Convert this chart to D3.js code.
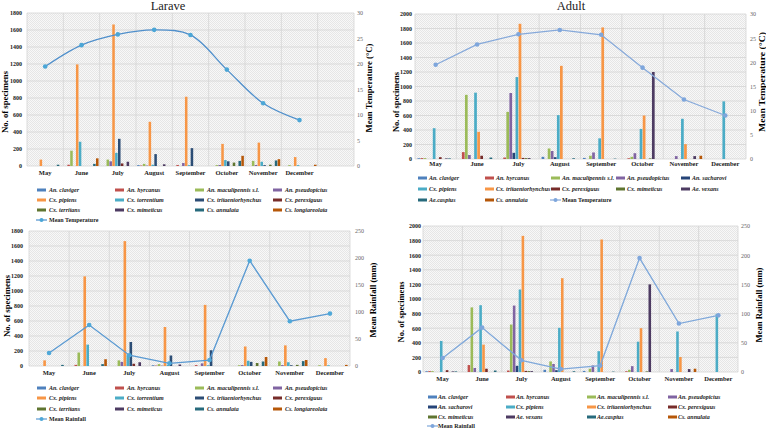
<!DOCTYPE html>
<html><head><meta charset="utf-8">
<script src="https://cdn.jsdelivr.net/npm/d3@7"></script>
<style>
body{margin:0;background:#fff}
text{font-family:"Liberation Serif","Times New Roman",serif}
</style>
</head><body>
<svg id="c" width="766" height="430"></svg>
<script>
// ---------- DATA ----------
const months = ["May","June","July","August","September","October","November","December"];
const monthsTL = ["May","June","July","August","September","October","November","December",""];

// Larvae (12 species)
const larvaeSpecies = ["An. claviger","An. hyrcanus","An. maculipennis s.l.","An. pseudopictus","Cx. pipiens","Cx. torrentium","Cx. tritaeniorhynchus","Cx. perexiguus","Cx. territans","Cx. mimeticus","Cs. annulata","Cs. longiareolata"];
const larvaeClaviger        = [0, 0, 0, 10, 0, 0, 0, 0];
const larvaeHyrcanus        = [0, 15, 0, 5, 12, 0, 0, 0];
const larvaeMaculipennis    = [0, 180, 75, 25, 0, 10, 60, 10];
const larvaePseudopictus    = [0, 0, 55, 5, 35, 12, 12, 0];
const larvaePipiens         = [75, 1195, 1665, 520, 815, 260, 275, 105];
const larvaeTorrentium      = [0, 285, 155, 15, 10, 70, 50, 10];
const larvaeTritaeniorhynchus = [0, 0, 320, 140, 210, 55, 10, 0];
const larvaePerexiguus      = [0, 0, 30, 0, 0, 0, 0, 0];
const larvaeTerritans       = [0, 0, 0, 0, 0, 40, 15, 0];
const larvaeMimeticus       = [0, 0, 50, 20, 0, 0, 0, 0];
const larvaeAnnulata        = [15, 25, 0, 0, 0, 60, 65, 0];
const larvaeLongiareolata   = [0, 90, 0, 0, 0, 120, 80, 15];

// Adults (12 species)
const adultSpecies = ["An. claviger","An. hyrcanus","An. maculipennis s.l.","An. pseudopictus","An. sacharovi","Cx. pipiens","Cx. tritaeniorhynchus","Cx. perexiguus","Cx. mimeticus","Ae. vexans","Ae.caspius","Cs. annulata"];
const adultClaviger         = [10, 0, 0, 30, 15, 0, 0, 0];
const adultHyrcanus         = [12, 95, 20, 0, 0, 10, 0, 0];
const adultMaculipennis     = [12, 885, 650, 145, 45, 30, 0, 0];
const adultPseudopictus     = [0, 55, 910, 110, 90, 80, 40, 0];
const adultSacharovi        = [0, 0, 85, 25, 0, 0, 0, 0];
const adultPipiens          = [425, 915, 1130, 605, 285, 415, 555, 795];
const adultTritaeniorhynchus= [0, 375, 1865, 1285, 1815, 600, 205, 0];
const adultPerexiguus       = [25, 45, 15, 0, 0, 0, 0, 0];
const adultMimeticus        = [0, 0, 12, 0, 0, 8, 0, 0];
const adultVexans           = [8, 0, 12, 0, 0, 1200, 40, 0];
const adultCaspius          = [8, 20, 0, 10, 5, 0, 0, 0];
const adultAnnulata         = [0, 0, 0, 0, 0, 0, 45, 0];

// Climate
const meanTemperature = [19.5, 23.7, 25.8, 26.7, 25.7, 18.9, 12.3, 9.0];
const meanRainfall    = [24, 76, 20, 5, 11, 195, 83, 97];

const leftTicksLarvae = [0,200,400,600,800,1000,1200,1400,1600,1800];
const leftTicksAdult  = [0,200,400,600,800,1000,1200,1400,1600,1800,2000];
const tempTicks = [0,5,10,15,20,25,30];
const rainTicks = [0,50,100,150,200,250];

// ---------- STYLE ----------
const larvaeColors = ["#4F81BD","#C0504D","#9BBB59","#8064A2","#F79646","#4BACC6","#2C4D75","#772C2A","#5F7530","#4D3B62","#276A7C","#B65708"];
const adultColors  = ["#4F81BD","#C0504D","#9BBB59","#8064A2","#264478","#4BACC6","#F79646","#772C2A","#5F7530","#4D3B62","#276A7C","#B65708"];

const larvaeValues = [larvaeClaviger,larvaeHyrcanus,larvaeMaculipennis,larvaePseudopictus,larvaePipiens,larvaeTorrentium,larvaeTritaeniorhynchus,larvaePerexiguus,larvaeTerritans,larvaeMimeticus,larvaeAnnulata,larvaeLongiareolata];
const adultValues = [adultClaviger,adultHyrcanus,adultMaculipennis,adultPseudopictus,adultSacharovi,adultPipiens,adultTritaeniorhynchus,adultPerexiguus,adultMimeticus,adultVexans,adultCaspius,adultAnnulata];

const svg = d3.select("#c");
const defs = svg.append("defs");
const pat = defs.append("pattern").attr("id","pat").attr("width",2).attr("height",2).attr("patternUnits","userSpaceOnUse");
pat.append("rect").attr("width",2).attr("height",2).attr("fill","#f8f8f8");
pat.append("rect").attr("width",1).attr("height",1).attr("fill","#e6e6e6");
pat.append("rect").attr("x",1).attr("y",1).attr("width",1).attr("height",1).attr("fill","#e6e6e6");

function panel(o){
  const g = svg.append("g");
  const x = d3.scaleBand().domain(o.cats).range([o.L,o.R]);
  const y = d3.scaleLinear().domain([0,d3.max(o.leftTicks)]).range([o.B,o.T]);
  const yr = d3.scaleLinear().domain([0,d3.max(o.rightTicks)]).range([o.B,o.T]);
  const xs = d3.scaleBand().domain(d3.range(o.species.length)).range([0,x.bandwidth()])
      .paddingInner(0.12).paddingOuter(o.pad);

  g.append("rect").attr("x",o.L).attr("y",o.T).attr("width",o.R-o.L).attr("height",o.B-o.T).attr("fill","url(#pat)");
  g.selectAll(".hg").data(o.leftTicks).join("line")
    .attr("x1",o.L).attr("x2",o.R).attr("y1",d=>y(d)).attr("y2",d=>y(d))
    .attr("stroke","#d4d4d4").attr("stroke-width",0.8);
  g.selectAll(".vg").data(o.cats.slice(1)).join("line")
    .attr("x1",d=>x(d)).attr("x2",d=>x(d)).attr("y1",o.T).attr("y2",o.B)
    .attr("stroke","#d4d4d4").attr("stroke-width",0.8);
  g.append("line").attr("x1",o.R).attr("x2",o.R).attr("y1",o.T).attr("y2",o.B).attr("stroke","#d4d4d4").attr("stroke-width",0.8);
  g.append("line").attr("x1",o.L).attr("x2",o.L).attr("y1",o.T).attr("y2",o.B).attr("stroke","#d4d4d4").attr("stroke-width",0.8);

  // bars
  o.values.forEach((vals,si)=>{
    g.selectAll(null).data(vals.map((v,i)=>({v,i}))).join("rect")
      .attr("x",d=>x(o.cats[d.i])+xs(si))
      .attr("width",xs.bandwidth())
      .attr("y",d=>y(d.v)).attr("height",d=>y(0)-y(d.v))
      .attr("fill",o.colors[si]);
  });

  // left axis
  const la = g.append("g").attr("transform",`translate(${o.leftTickX},0)`)
    .call(d3.axisLeft(y).tickValues(o.leftTicks).tickFormat(d3.format("d")).tickSize(0).tickPadding(0));
  la.attr("font-family",null);
  la.select(".domain").remove();
  la.selectAll("text").attr("font-size",6).attr("font-weight","bold").attr("fill","#222");
  // right axis
  const ra = g.append("g").attr("transform",`translate(${o.rightTickX},0)`)
    .call(d3.axisRight(yr).tickValues(o.rightTicks).tickFormat(d3.format("d")).tickSize(0).tickPadding(0));
  ra.attr("font-family",null);
  ra.select(".domain").remove();
  ra.selectAll("text").attr("font-size",6).attr("fill","#666");
  // x axis labels
  g.selectAll(".xl").data(o.cats.filter(c=>c!=="")).join("text")
    .attr("x",d=>x(d)+x.bandwidth()/2).attr("y",o.xLabelY)
    .attr("text-anchor","middle").attr("font-size",6.5).attr("font-weight","bold").attr("fill","#222")
    .text(d=>d);

  // line
  const line = d3.line().x((d,i)=>x(o.cats[i])+x.bandwidth()/2).y(d=>yr(d)).curve(o.curve);
  g.append("path").attr("d",line(o.line)).attr("fill","none").attr("stroke",o.lineColor).attr("stroke-width",1.3);
  g.selectAll(null).data(o.line).join("circle")
    .attr("cx",(d,i)=>x(o.cats[i])+x.bandwidth()/2).attr("cy",d=>yr(d)).attr("r",2.3)
    .attr("fill",o.markerColor);

  // titles
  if(o.title) g.append("text").attr("x",o.titleX).attr("y",10).attr("text-anchor","middle")
    .attr("font-size",12.5).attr("fill","#222").text(o.title);
  g.append("text").attr("transform",`translate(${o.lt[0]},${o.lt[1]}) rotate(-90)`)
    .attr("text-anchor","middle").attr("dy","0.35em").attr("font-size",9).attr("font-weight","bold")
    .attr("textLength",o.lt[2]).attr("lengthAdjust","spacingAndGlyphs").text("No. of specimens");
  g.append("text").attr("transform",`translate(${o.rt[0]},${o.rt[1]}) rotate(-90)`)
    .attr("text-anchor","middle").attr("dy","0.35em").attr("font-size",9).attr("font-weight","bold")
    .attr("textLength",o.rt[2]).attr("lengthAdjust","spacingAndGlyphs").text(o.rightTitle);

  // legend
  const items = o.species.map((s,i)=>({name:s,color:o.colors[i],type:"bar"}));
  items.push({name:o.lineName,color:o.lineColor,type:"line"});
  items.forEach((it,i)=>{
    const cx = o.legCols[i%o.legCols.length], cy = o.legRows[Math.floor(i/o.legCols.length)];
    if(it.type==="bar"){
      g.append("rect").attr("x",cx).attr("y",cy-1.5).attr("width",9).attr("height",3).attr("fill",it.color);
    } else {
      g.append("line").attr("x1",cx-1).attr("x2",cx+10).attr("y1",cy).attr("y2",cy).attr("stroke",it.color).attr("stroke-width",1.2);
      g.append("circle").attr("cx",cx+4.5).attr("cy",cy).attr("r",2).attr("fill",o.markerColor);
    }
    g.append("text").attr("x",cx+o.legTextOff).attr("y",cy+2).attr("font-size",6).attr("font-weight","bold")
      .attr("font-style",it.type==="bar"?"italic":"normal").attr("fill","#222").text(it.name);
  });
}

// Top-left: Larvae vs temperature
panel({cats:monthsTL,L:27,R:354,T:13,B:166,pad:0.4,species:larvaeSpecies,values:larvaeValues,colors:larvaeColors,
  leftTicks:leftTicksLarvae,rightTicks:tempTicks,leftTickX:22,rightTickX:357,xLabelY:175,
  line:meanTemperature,curve:d3.curveCatmullRom,lineColor:"#4F8FCB",markerColor:"#4BA6D6",lineName:"Mean Temperature",
  title:"Larave",titleX:168,lt:[5,102,62],rt:[369,88,89],rightTitle:"Mean Temperature (°C)",
  legCols:[37,115,195,273],legRows:[190,200,210,220],legTextOff:12});

// Top-right: Adults vs temperature
panel({cats:months,L:415,R:746,T:14,B:159,pad:0.8,species:adultSpecies,values:adultValues,colors:adultColors,
  leftTicks:leftTicksAdult,rightTicks:tempTicks,leftTickX:412,rightTickX:750,xLabelY:166,
  line:meanTemperature,curve:d3.curveLinear,lineColor:"#86A9DA",markerColor:"#7EA6DC",lineName:"Mean Temperature",
  title:"Adult",titleX:571,lt:[396,102,60],rt:[762,82,100],rightTitle:"Mean Temperature (°C)",
  legCols:[418,485,551,616,681],legRows:[178,189,200],legTextOff:11});

// Bottom-left: Larvae vs rainfall
panel({cats:months,L:29,R:350,T:231,B:366,pad:0.8,species:larvaeSpecies,values:larvaeValues,colors:larvaeColors,
  leftTicks:leftTicksLarvae,rightTicks:rainTicks,leftTickX:23,rightTickX:355,xLabelY:375,
  line:meanRainfall,curve:d3.curveLinear,lineColor:"#5A9AD2",markerColor:"#4FA8D8",lineName:"Mean Rainfall",
  title:null,lt:[6.5,306,62],rt:[372.5,300,75],rightTitle:"Mean Rainfall (mm)",
  legCols:[37,115,195,273],legRows:[388,398,409,419],legTextOff:12});

// Bottom-right: Adults vs rainfall
panel({cats:months,L:423,R:738,T:226,B:372,pad:0.8,species:adultSpecies,values:adultValues,colors:adultColors,
  leftTicks:leftTicksAdult,rightTicks:rainTicks,leftTickX:421,rightTickX:741,xLabelY:381,
  line:meanRainfall,curve:d3.curveLinear,lineColor:"#7FA8DA",markerColor:"#7EA6DC",lineName:"Mean Rainfall",
  title:null,lt:[400.5,312,61],rt:[759,305,75],rightTitle:"Mean Rainfall (mm)",
  legCols:[428,506,587,668],legRows:[397,407,417,426],legTextOff:10});
</script>
</body></html>
